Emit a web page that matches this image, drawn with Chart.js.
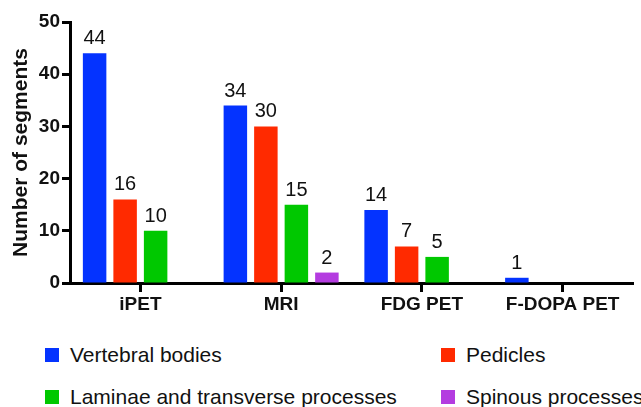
<!DOCTYPE html>
<html>
<head>
<meta charset="utf-8">
<script src="https://cdn.jsdelivr.net/npm/chart.js@4"></script>
<style>
  body { margin: 0; background: #fff; font-family: "Liberation Sans", Arial, sans-serif; }
  #wrap { position: relative; width: 641px; height: 407px; overflow: hidden; }
  #c { position: absolute; left: 0; top: 0; }
  .leg { position: absolute; font-size: 21px; color: #111; white-space: nowrap; }
  .leg span.box { position: absolute; left: 0; top: 0; width: 14px; height: 14px; }
  .leg span.txt { position: absolute; left: 25px; top: -6px; line-height: 26px; }
</style>
</head>
<body>
<div id="wrap">
  <canvas id="c" width="641" height="320"></canvas>
  <div id="legend"></div>
</div>
<script>
const categories = ['iPET', 'MRI', 'FDG PET', 'F-DOPA PET'];
const seriesNames = ['Vertebral bodies', 'Pedicles', 'Laminae and transverse processes', 'Spinous processes'];
const vertebralBodies = [44, 34, 14, 1];
const pedicles = [16, 30, 7, 0];
const laminae = [10, 15, 5, 0];
const spinous = [0, 2, 0, 0];
const yTicks = [0, 10, 20, 30, 40, 50];

const colors = ['#0433ff', '#ff2a00', '#00c800', '#b43ce0'];
const values = [vertebralBodies, pedicles, laminae, spinous];
const FONT = '"Liberation Sans", Arial, sans-serif';

// 値ラベルを棒の上に描く（0は描かない）
const valueLabels = {
  id: 'valueLabels',
  afterDatasetsDraw(chart) {
    const ctx = chart.ctx;
    ctx.save();
    ctx.font = '20px ' + FONT;
    ctx.fillStyle = '#111';
    ctx.textAlign = 'center';
    ctx.textBaseline = 'alphabetic';
    chart.data.datasets.forEach((ds, i) => {
      chart.getDatasetMeta(i).data.forEach((bar, j) => {
        if (ds.data[j] > 0) ctx.fillText(ds.data[j], bar.x, bar.y - 9);
      });
    });
    ctx.restore();
  }
};

const chart = new Chart(document.getElementById('c'), {
  type: 'bar',
  data: {
    labels: categories,
    datasets: seriesNames.map((name, i) => ({
      label: name,
      data: values[i],
      backgroundColor: colors[i],
      borderWidth: 0,
      categoryPercentage: 0.867,
      barPercentage: 0.77
    }))
  },
  options: {
    responsive: false,
    animation: false,
    layout: { padding: { top: 22, right: 8, left: 0, bottom: 0 } },
    plugins: {
      legend: { display: false },
      tooltip: { enabled: false }
    },
    scales: {
      x: {
        afterFit: s => { s.height = 37; },
        grid: {
          offset: false,
          drawOnChartArea: false,
          drawTicks: true,
          tickLength: 9,
          tickWidth: 3,
          tickColor: '#000'
        },
        border: { color: '#000', width: 3 },
        ticks: {
          color: '#111',
          padding: 1,
          font: { size: 19, weight: 'bold', family: FONT }
        }
      },
      y: {
        min: 0,
        max: 50,
        afterFit: s => { s.width = 70; },
        afterBuildTicks: s => { s.ticks = yTicks.map(v => ({ value: v })); },
        grid: {
          drawOnChartArea: false,
          drawTicks: true,
          tickLength: 8,
          tickWidth: 3,
          tickColor: '#000'
        },
        border: { color: '#000', width: 3 },
        ticks: {
          color: '#111',
          padding: 2,
          font: { size: 19, weight: 'bold', family: FONT }
        },
        title: {
          display: true,
          text: 'Number of segments',
          color: '#111',
          padding: { top: 9, bottom: 0 },
          font: { size: 21, weight: 'bold', family: FONT }
        }
      }
    }
  },
  plugins: [valueLabels]
});

// 凡例（2列）
const legendPos = [[45, 348], [441, 348], [45, 390], [441, 390]];
const legendEl = document.getElementById('legend');
chart.data.datasets.forEach((ds, i) => {
  const d = document.createElement('div');
  d.className = 'leg';
  d.style.left = legendPos[i][0] + 'px';
  d.style.top = legendPos[i][1] + 'px';
  d.innerHTML = '<span class="box" style="background:' + ds.backgroundColor + '"></span><span class="txt">' + ds.label + '</span>';
  legendEl.appendChild(d);
});
</script>
</body>
</html>
